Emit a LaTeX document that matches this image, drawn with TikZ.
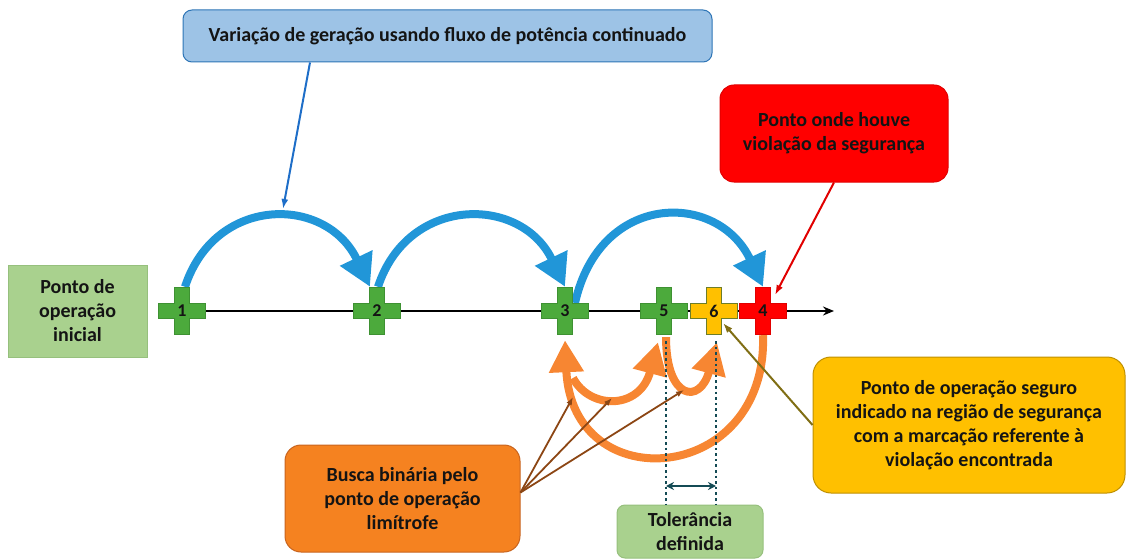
\documentclass[tikz,border=0pt]{standalone}
\usepackage{fontspec}
\setmainfont{Carlito}
\usetikzlibrary{arrows.meta,calc}
\pgfdeclarelayer{back}
\pgfsetlayers{back,main}
\definecolor{ctext}{RGB}{20,20,20}
\definecolor{cblue}{RGB}{33,150,216}
\definecolor{cgreen}{RGB}{76,170,60}
\definecolor{cgreenb}{RGB}{62,145,50}
\definecolor{cyel}{RGB}{255,192,0}
\definecolor{cyelb}{RGB}{110,125,40}
\definecolor{cred}{RGB}{255,0,0}
\definecolor{credb}{RGB}{225,0,0}
\definecolor{corange}{RGB}{247,134,50}
\definecolor{orbox}{RGB}{245,130,32}
\definecolor{orboxb}{RGB}{200,100,30}
\definecolor{ltgreen}{RGB}{169,209,142}
\definecolor{ltgreenb}{RGB}{150,192,125}
\definecolor{ltblue}{RGB}{157,195,230}
\definecolor{blueb}{RGB}{46,117,182}
\definecolor{pointblue}{RGB}{30,110,200}
\definecolor{yelbox}{RGB}{255,192,0}
\definecolor{yelboxb}{RGB}{191,144,0}
\definecolor{cbrown}{RGB}{140,70,20}
\definecolor{colive}{RGB}{128,110,20}
\definecolor{cteal}{RGB}{20,75,85}
\begin{document}
\begin{tikzpicture}[x=1pt,y=-1pt,
  font=\bfseries\fontsize{20}{24}\selectfont, text=ctext,
  box/.style={align=center, inner sep=0pt, line width=1pt},
  crossn/.style 2 args={minimum width=48pt, minimum height=48pt, inner sep=0pt,
    font=\bfseries\fontsize{18}{18}\selectfont,
    path picture={\filldraw[fill=#1, draw=#2, line width=1.2pt]
      ($(path picture bounding box.center)+(-23.4pt,-7.8pt)$) -- ++(15.6pt,0pt) -- ++(0pt,-15.6pt)
      -- ++(15.6pt,0pt) -- ++(0pt,15.6pt) -- ++(15.6pt,0pt) -- ++(0pt,15.6pt) -- ++(-15.6pt,0pt)
      -- ++(0pt,15.6pt) -- ++(-15.6pt,0pt) -- ++(0pt,-15.6pt) -- ++(-15.6pt,0pt) -- cycle;}},
  bluearc/.style={draw=cblue, line width=8pt, -{Triangle[length=32pt,width=34pt]}},
  orarc/.style={draw=corange, line width=8pt, -{Triangle[length=32pt,width=33pt]}},
  axisline/.style={draw=black, line width=1.8pt, -{Stealth[length=11pt,width=9pt]}},
  brownarrow/.style={draw=cbrown, line width=1.8pt, -{Latex[length=8pt,width=6pt]}},
  pointer/.style={line width=2pt, -{Latex[length=10pt,width=7pt]}},
  dotline/.style={draw=cteal, line width=2.6pt, dash pattern=on 2.6pt off 3pt},
  tolarrow/.style={draw=cteal, line width=2.2pt, {Stealth[length=8pt,width=8pt]}-{Stealth[length=8pt,width=8pt]}}
]
\useasboundingbox (0,0) rectangle (1127,559);

% boxes
\node[box, fill=ltblue, draw=blueb, rounded corners=9pt, minimum width=529pt, minimum height=52pt] (top) at (447.5,36)
  {Variação de geração usando fluxo de potência continuado};
\node[box, fill=ltgreen, draw=ltgreenb, minimum width=139pt, minimum height=92pt] (ini) at (77.5,311)
  {Ponto de\\operação\\inicial};
\node[box, fill=cred, draw=credb, rounded corners=14pt, minimum width=228pt, minimum height=97pt] (viol) at (834,133.5)
  {Ponto onde houve\\violação da segurança};
\node[box, fill=yelbox, draw=yelboxb, rounded corners=18pt, minimum width=312pt, minimum height=136pt] (seg) at (969,425)
  {Ponto de operação seguro\\indicado na região de segurança\\com a marcação referente à\\violação encontrada};
\node[box, fill=orbox, draw=orboxb, rounded corners=16pt, minimum width=235pt, minimum height=107pt] (busca) at (402.5,498.5)
  {Busca binária pelo\\ponto de operação\\limítrofe};
\node[box, fill=ltgreen, draw=ltgreenb, rounded corners=8pt, minimum width=146pt, minimum height=53pt] (tol) at (690,531.5)
  {Tolerância\\definida};

% crosses
\node[crossn={cgreen}{cgreenb}] (c1) at (182,311) {1};
\node[crossn={cgreen}{cgreenb}] (c2) at (377,311) {2};
\node[crossn={cgreen}{cgreenb}] (c3) at (565,311) {3};
\node[crossn={cgreen}{cgreenb}] (c5) at (664,311) {5};
\node[crossn={cyel}{cyelb}] (c6) at (714,311) {6};
\node[crossn={cred}{credb}] (c4) at (763,311) {4};

% free ends
\coordinate (axend) at (834,311);
\coordinate (bp) at (283,209);
\coordinate (o35) at (573,378);
\coordinate (t1) at (573,397);
\coordinate (t2) at (612,398);
\coordinate (t3) at (684,390);
\coordinate (tl) at (666,486);
\coordinate (tr) at (716,486);

\begin{pgfonlayer}{back}
\draw[axisline] (c1.center) -- (axend);
% blue arcs
\draw[bluearc] ([xshift=3pt]c1.north) .. controls (215,195) and (326,195) .. ([xshift=-7pt]c2.north);
\draw[bluearc] ([xshift=1pt]c2.north) .. controls (408,195) and (521,195) .. (c3.north);
\draw[bluearc] ([xshift=10pt,yshift=8pt]c3.center) .. controls (600,191) and (718,191) .. (c4.north);
% orange arcs
\draw[orarc] (o35) .. controls (590,410) and (640,410) .. ([xshift=-6pt,yshift=-7pt]c5.south);
\draw[orarc] ([xshift=2pt,yshift=-2pt]c5.south) .. controls (666,400) and (700,405) .. ([xshift=3pt,yshift=-7pt]c6.south);
\draw[orarc] (c4.south) .. controls (768,485) and (572,500) .. ([yshift=-5pt]c3.south);
\end{pgfonlayer}

% dotted tolerance lines
\draw[dotline] ([xshift=2pt,yshift=-6pt]c5.south) -- ([xshift=2pt]c5.south |- tol.north);
\draw[dotline] ([xshift=2pt,yshift=-6pt]c6.south) -- ([xshift=2pt]c6.south |- tol.north);
\draw[tolarrow] (tl) -- (tr);

% pointers
\draw[pointer, draw=pointblue] ([xshift=-137.5pt]top.south) -- (bp);
\draw[pointer, draw=credb] (viol.south) -- ([xshift=12pt,yshift=16pt]c4.center);
\draw[pointer, draw=colive] (seg.west) -- ([xshift=9pt,yshift=-12pt]c6.center);
\draw[brownarrow] ([yshift=6pt]busca.east) -- (t1);
\draw[brownarrow] ([yshift=6pt]busca.east) -- (t2);
\draw[brownarrow] ([yshift=6pt]busca.east) -- (t3);
\end{tikzpicture}
\end{document}
